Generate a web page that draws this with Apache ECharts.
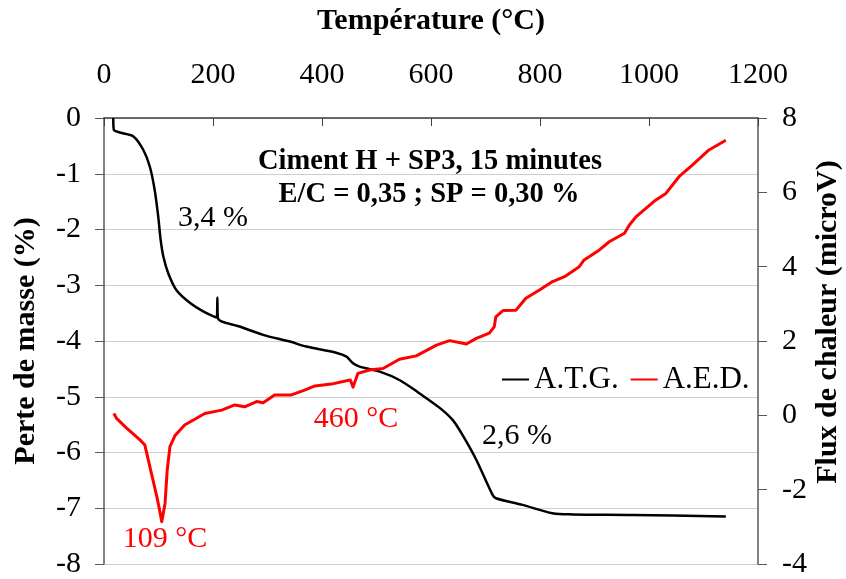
<!DOCTYPE html>
<html>
<head>
<meta charset="utf-8">
<script src="https://cdn.jsdelivr.net/npm/echarts@6/dist/echarts.min.js"></script>
<style>
html,body{margin:0;padding:0;background:#fff;}
#chart{width:846px;height:579px;}
</style>
</head>
<body>
<div id="chart"></div>
<script>
// Temperature ticks
var tempTicks = [0, 200, 400, 600, 800, 1000, 1200];

// A.T.G. (Perte de masse, %)
var atgTemp = [17, 18, 29, 54, 72, 84, 93, 99.5, 104, 109, 118, 133, 158, 182, 207, 208, 209, 249, 292, 341, 371, 426, 445, 457, 469, 506, 542, 579, 616, 640, 658, 683, 713, 719, 768, 823, 860, 970, 1141];
var atgMass = [0, -0.21, -0.26, -0.33, -0.57, -0.87, -1.29, -1.77, -2.19, -2.49, -2.79, -3.09, -3.32, -3.47, -3.58, -3.22, -3.59, -3.74, -3.89, -4.01, -4.10, -4.21, -4.28, -4.40, -4.46, -4.55, -4.70, -4.94, -5.20, -5.42, -5.69, -6.13, -6.76, -6.82, -6.94, -7.09, -7.11, -7.12, -7.15];

// A.E.D. (Flux de chaleur, microV)
var aedTemp = [18, 23, 42, 66, 75, 87, 97, 102, 106, 112, 116, 121, 130, 148, 185, 216, 240, 258, 280, 292, 313, 344, 368, 387, 417, 445, 452, 457, 466, 487, 512, 542, 573, 610, 634, 665, 683, 707, 716, 719, 732, 756, 774, 799, 823, 845, 872, 881, 909, 927, 955, 964, 976, 1012, 1031, 1055, 1080, 1110, 1141];
var aedFlux = [0.05, -0.08, -0.35, -0.66, -0.80, -1.56, -2.19, -2.55, -2.86, -2.37, -1.47, -0.84, -0.55, -0.26, 0.05, 0.14, 0.28, 0.23, 0.37, 0.34, 0.55, 0.55, 0.68, 0.79, 0.84, 0.93, 0.95, 0.76, 1.13, 1.22, 1.26, 1.51, 1.60, 1.89, 2.01, 1.92, 2.07, 2.21, 2.38, 2.65, 2.82, 2.83, 3.15, 3.37, 3.60, 3.73, 4.00, 4.18, 4.45, 4.67, 4.90, 5.12, 5.34, 5.79, 5.97, 6.42, 6.74, 7.14, 7.40];

var massTicks = [0, -1, -2, -3, -4, -5, -6, -7, -8];
var fluxTicks = [-4, -2, 0, 2, 4, 6, 8];

function pairs(xs, ys){ return xs.map(function(x,i){ return [x, ys[i]]; }); }

var FONT = 'Liberation Serif';
var chart = echarts.init(document.getElementById('chart'), null, {renderer:'canvas'});
chart.setOption({
  animation: false,
  backgroundColor: '#fff',
  textStyle: {fontFamily: FONT},
  grid: {left: 104, right: 88, top: 118, bottom: 15, containLabel: false, outerBoundsMode: 'none'},
  legend: {
    left: 497, top: 359,
    itemWidth: 27, itemHeight: 2, itemGap: 12,
    icon: 'rect',
    textStyle: {fontFamily: FONT, fontSize: 31, color: '#000'},
    data: ['A.T.G.', 'A.E.D.']
  },
  xAxis: {
    type: 'value', position: 'top',
    min: tempTicks[0], max: tempTicks[tempTicks.length-1], interval: 200,
    name: 'Température (°C)', nameLocation: 'middle', nameGap: 82,
    nameTextStyle: {fontFamily: FONT, fontSize: 30, fontWeight: 'bold', color: '#000'},
    axisLine: {show: true, lineStyle: {color: '#404040', width: 1.5}},
    axisTick: {show: true, inside: true, length: 8, lineStyle: {color: '#404040'}},
    axisLabel: {fontFamily: FONT, fontSize: 30, color: '#000', margin: 28,
                formatter: function(v){ return String(v); }},
    splitLine: {show: false}
  },
  yAxis: [{
    type: 'value', position: 'left',
    min: massTicks[massTicks.length-1], max: massTicks[0], interval: 1,
    axisLine: {show: true, lineStyle: {color: '#595959', width: 1.5}},
    axisTick: {show: true, inside: false, length: 9, lineStyle: {color: '#595959'}},
    axisLabel: {fontFamily: FONT, fontSize: 30, color: '#000', margin: 23},
    splitLine: {show: true, lineStyle: {color: '#cfcfcf', width: 1}}
  }, {
    type: 'value', position: 'right',
    min: fluxTicks[0], max: fluxTicks[fluxTicks.length-1], interval: 2,
    axisLine: {show: true, lineStyle: {color: '#595959', width: 1.5}},
    axisTick: {show: true, inside: false, length: 9, lineStyle: {color: '#595959'}},
    axisLabel: {fontFamily: FONT, fontSize: 30, color: '#000', margin: 24},
    splitLine: {show: false}
  }],
  graphic: [
    {type:'text', x: 26, y: 341, rotation: Math.PI/2,
     style:{text:'Perte de masse (%)', font:'bold 30px "Liberation Serif"', fill:'#000', align:'center', verticalAlign:'middle'}},
    {type:'text', x: 828, y: 322, rotation: Math.PI/2,
     style:{text:'Flux de chaleur (microV)', font:'bold 30px "Liberation Serif"', fill:'#000', align:'center', verticalAlign:'middle'}},
    {type:'text', x: 430, y: 162, z: 10,
     style:{text:'Ciment H + SP3, 15 minutes', font:'bold 28.5px "Liberation Serif"', fill:'#000', align:'center', verticalAlign:'middle'}},
    {type:'text', x: 429, y: 195, z: 10,
     style:{text:'E/C = 0,35 ; SP = 0,30 %', font:'bold 28.5px "Liberation Serif"', fill:'#000', align:'center', verticalAlign:'middle'}},
    {type:'text', x: 213, y: 218, z: 10,
     style:{text:'3,4 %', font:'30px "Liberation Serif"', fill:'#000', align:'center', verticalAlign:'middle'}},
    {type:'text', x: 517, y: 436, z: 10,
     style:{text:'2,6 %', font:'30px "Liberation Serif"', fill:'#000', align:'center', verticalAlign:'middle'}},
    {type:'text', x: 356, y: 419, z: 10,
     style:{text:'460 °C', font:'30px "Liberation Serif"', fill:'#ff0000', align:'center', verticalAlign:'middle'}},
    {type:'text', x: 165, y: 539, z: 10,
     style:{text:'109 °C', font:'30px "Liberation Serif"', fill:'#ff0000', align:'center', verticalAlign:'middle'}}
  ],
  series: [{
    name: 'A.T.G.', type: 'line', yAxisIndex: 0,
    data: pairs(atgTemp, atgMass),
    showSymbol: false, symbol: 'none', smooth: 0.3,
    lineStyle: {color: '#000', width: 2.5},
    itemStyle: {color: '#000'}
  }, {
    name: 'A.E.D.', type: 'line', yAxisIndex: 1,
    data: pairs(aedTemp, aedFlux),
    showSymbol: false, symbol: 'none', smooth: false,
    lineStyle: {color: '#ff0000', width: 3, join: 'round'},
    itemStyle: {color: '#ff0000'}
  }]
});
</script>
</body>
</html>
